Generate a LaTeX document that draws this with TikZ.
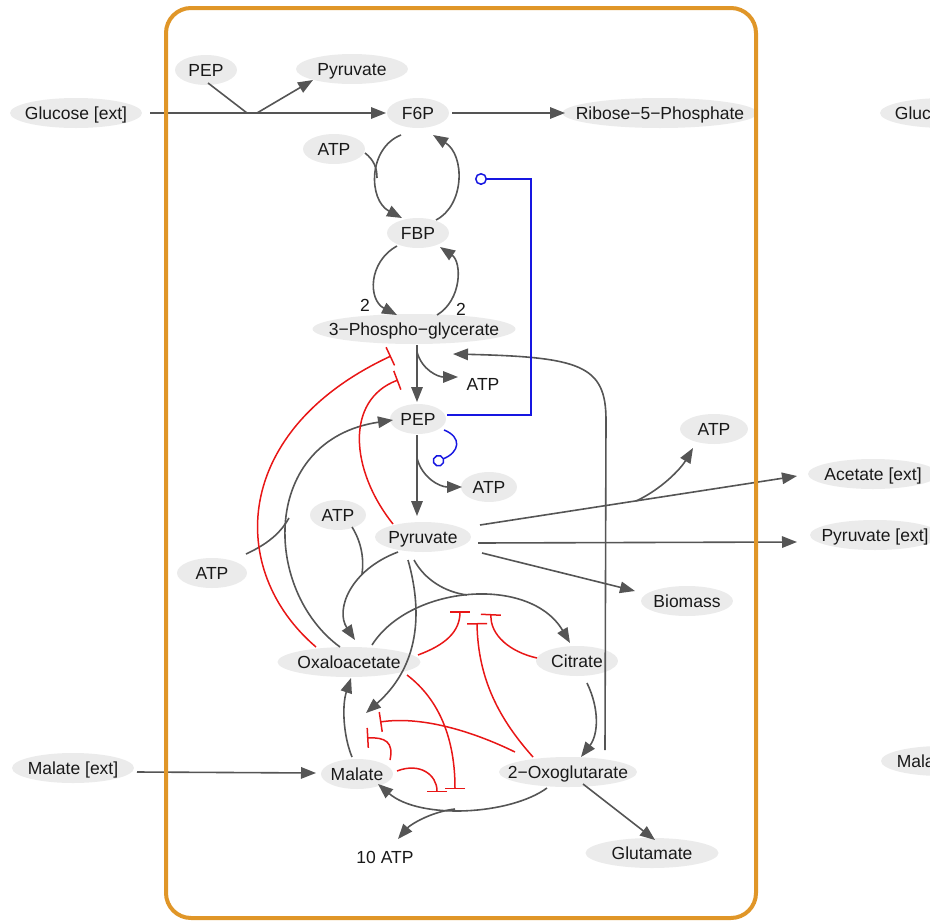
\documentclass[tikz,border=0pt]{standalone}
\usepackage{fontspec}
\setmainfont{Liberation Sans}
\usetikzlibrary{shapes.geometric,arrows.meta,calc}
\definecolor{lgray}{RGB}{85,85,85}
\definecolor{ellfill}{RGB}{235,235,235}
\definecolor{myred}{RGB}{232,22,22}
\definecolor{myblue}{RGB}{22,22,225}
\definecolor{frameor}{RGB}{224,150,40}
\definecolor{txtc}{RGB}{25,25,25}
\newcommand{\enode}[4]{\node[ell, minimum width=#3] (#1) at #2 {\makebox[0pt]{#4}};}
\begin{document}
\begin{tikzpicture}[x=1pt,y=-1pt,
  ell/.style={ellipse, fill=ellfill, inner sep=0pt, minimum height=30pt, text height=12.5pt, text depth=0pt, text=txtc, font=\fontsize{17.5}{20}\selectfont},
  txt/.style={inner sep=0pt, text height=12.5pt, text depth=0pt, text=txtc, font=\fontsize{17.5}{20}\selectfont},
  ln/.style={draw=lgray, line width=1.6pt},
  arr/.style={ln, -{Triangle[length=15pt,width=11.5pt]}},
  inh/.style={draw=myred, line width=1.5pt, -{Bar[width=20pt]}},
  blu/.style={draw=myblue, line width=1.5pt, -{Circle[open,length=12pt,width=12pt]}},
  frame/.style={draw=frameor, line width=4pt, rounded corners=25pt}]
\useasboundingbox (0,0) rectangle (930,924);
\clip (0,0) rectangle (930,924);
% nodes
\enode{glcext}{(76,113)}{132pt}{Glucose [ext]}
\enode{pep1}{(206,70)}{62pt}{PEP}
\enode{pyr1}{(352,69)}{112pt}{Pyruvate}
\enode{f6p}{(418,113)}{62pt}{F6P}
\enode{r5p}{(660,113)}{195pt}{Ribose−5−Phosphate}
\enode{atp1}{(334,149)}{62pt}{ATP}
\enode{fbp}{(418,233)}{62pt}{FBP}
\enode{pg3}{(414,329)}{203pt}{3−Phospho−glycerate}
\node[txt] (lab1) at (365,305) {2};
\node[txt] (lab2) at (461,309) {2};
\node[txt] (atp2) at (483,384) {ATP};
\enode{pep2}{(418,419)}{56pt}{PEP}
\enode{atp3}{(489,487)}{56pt}{ATP}
\enode{atp4}{(714,429)}{68pt}{ATP}
\enode{acext}{(873,474)}{130pt}{Acetate [ext]}
\enode{pyrext}{(875,535)}{130pt}{Pyruvate [ext]}
\enode{biomass}{(687,601)}{92pt}{Biomass}
\enode{atp5}{(338,515)}{56pt}{ATP}
\enode{pyr2}{(423,537)}{96pt}{Pyruvate}
\enode{atp6}{(212,573)}{70pt}{ATP}
\enode{oaa}{(349,662)}{143pt}{Oxaloacetate}
\enode{cit}{(577,661)}{82pt}{Citrate}
\enode{mal}{(357,774)}{72pt}{Malate}
\enode{malext}{(73,768)}{122pt}{Malate [ext]}
\enode{oxo}{(568,772)}{138pt}{2−Oxoglutarate}
\node[txt] (atp10) at (385,857) {10 ATP};
\enode{glu}{(652,853)}{133pt}{Glutamate}
\enode{glcext2}{(946,113)}{132pt}{Glucose [ext]}
\enode{malext2}{(942,761)}{122pt}{Malate [ext]}
% junction coordinates
\coordinate (j1) at (247,113);
\coordinate (j2) at (257,113);
\coordinate (b1) at (417,352);
\coordinate (b2) at (417,458);
\coordinate (b3) at (455,809);
\coordinate (b4) at (636,501);
\coordinate (b5) at (467,595);
\coordinate (b6) at (289,518);
\coordinate (b7) at (362,574);
\coordinate (b8) at (377,178);
% gray reactions
\draw[arr] ($(glcext)+(74,0)$) -- ($(f6p)+(-32,0)$);
\draw[ln] ($(pep1)+(2,13)$) -- (j1);
\draw[arr] (j2) -- ($(pyr1)+(-39,11)$);
\draw[arr] ($(f6p)+(34,0)$) -- ($(r5p)+(-95,0)$);
\draw[arr] ($(f6p)+(-17,22)$) .. controls (368,148) and (368,200) .. ($(fbp)+(-16,-15)$);
\draw[ln] ($(atp1)+(31,4)$) .. controls (374,160) and (377,168) .. (b8);
\draw[arr] ($(fbp)+(18,-13)$) .. controls (465,205) and (465,155) .. ($(f6p)+(15,22)$);
\draw[arr] ($(fbp)+(-21,13)$) .. controls (368,262) and (368,300) .. ($(pg3)+(-17,-14)$);
\draw[arr] ($(pg3)+(23,-14)$) .. controls (462,300) and (462,262) .. ($(fbp)+(22,14)$);
\draw[arr] ($(pg3)+(3,16)$) -- ($(pep2)+(-1,-17)$);
\draw[arr] (b1) .. controls (422,370) and (438,377) .. ($(atp2)+(-25,-7)$);
\draw[arr] ($(pep2)+(-1,16)$) -- ($(pyr2)+(-6,-21)$);
\draw[arr] (b2) .. controls (422,478) and (440,487) .. ($(atp3)+(-27,0)$);
\draw[arr] ($(oaa)+(-9,-15)$) .. controls (262,590) and (260,440) .. ($(pep2)+(-25,1)$);
\draw[ln] ($(atp6)+(34,-19)$) .. controls (272,542) and (282,530) .. (b6);
\draw[arr] ($(pyr2)+(-25,15)$) .. controls (350,570) and (335,610) .. ($(oaa)+(6,-22)$);
\draw[ln] ($(atp5)+(14,12)$) .. controls (362,543) and (364,560) .. (b7);
\draw[arr] ($(pyr2)+(-15,23)$) .. controls (425,620) and (415,670) .. ($(mal)+(9,-61)$);
\draw[arr] ($(oaa)+(23,-17)$) .. controls (410,585) and (530,575) .. ($(cit)+(-7,-18)$);
\draw[ln] ($(pyr2)+(-9,23)$) .. controls (425,580) and (445,592) .. (b5);
\draw[arr] ($(cit)+(10,22)$) .. controls (600,710) and (598,735) .. ($(oxo)+(13,-15)$);
\draw[arr] ($(oxo)+(-21,16)$) .. controls (510,815) and (420,820) .. ($(mal)+(21,10)$);
\draw[arr] (b3) .. controls (430,812) and (410,825) .. ($(atp10)+(13,-18)$);
\draw[arr] ($(mal)+(-5,-17)$) .. controls (343,735) and (342,705) .. ($(oaa)+(2,16)$);
\draw[arr] ($(oxo)+(37,-22)$) -- (606,420) .. controls (606,365) and (580,357) .. ($(pg3)+(39,25)$);
\draw[arr] ($(pyr2)+(57,-12)$) -- ($(acext)+(-76,2)$);
\draw[arr] (b4) .. controls (660,490) and (680,470) .. ($(atp4)+(-21,19)$);
\draw[arr] ($(pyr2)+(55,6)$) -- ($(pyrext)+(-78,7)$);
\draw[arr] ($(pyr2)+(59,16)$) -- ($(biomass)+(-52,-10)$);
\draw[arr] ($(malext)+(64,4)$) -- ($(mal)+(-41,-1)$);
\draw[arr] ($(oxo)+(15,12)$) -- ($(glu)+(3,-13)$);
% red inhibitions
\coordinate (i1) at (391,356);
\coordinate (i2) at (398,380);
\coordinate (i3) at (460,611);
\coordinate (i4) at (491,614);
\coordinate (i5) at (477,623);
\coordinate (i6) at (380,722);
\coordinate (i7) at (367,738);
\coordinate (i8) at (437,792);
\coordinate (i9) at (455,789);
\draw[inh] ($(oaa)+(-33,-15)$) .. controls (226,570) and (232,430) .. (i1);
\draw[inh] ($(pyr2)+(-30,-13)$) .. controls (350,470) and (345,400) .. (i2);
\draw[inh] ($(oaa)+(69,-7)$) .. controls (445,645) and (460,632) .. (i3);
\draw[inh] ($(cit)+(-40,-3)$) .. controls (510,652) and (490,635) .. (i4);
\draw[inh] ($(oxo)+(-35,-15)$) .. controls (500,720) and (478,680) .. (i5);
\draw[inh] ($(oxo)+(-53,-20)$) .. controls (470,730) and (420,716) .. (i6);
\draw[inh] ($(mal)+(33,-14)$) .. controls (394,742) and (385,737) .. (i7);
\draw[inh] ($(mal)+(40,-3)$) .. controls (420,762) and (437,775) .. (i8);
\draw[inh] ($(oaa)+(58,13)$) .. controls (440,700) and (455,740) .. (i9);
% blue
\coordinate (c1) at (475,179);
\coordinate (c2) at (433,463);
\draw[blu] ($(pep2)+(29,-4)$) -- (531,415) -- (531,179) -- (c1);
\draw[blu] ($(pep2)+(26,11)$) .. controls (462,437) and (460,452) .. (c2);
% frame
\draw[frame] (166,8) rectangle (756,918);
\end{tikzpicture}
\end{document}
